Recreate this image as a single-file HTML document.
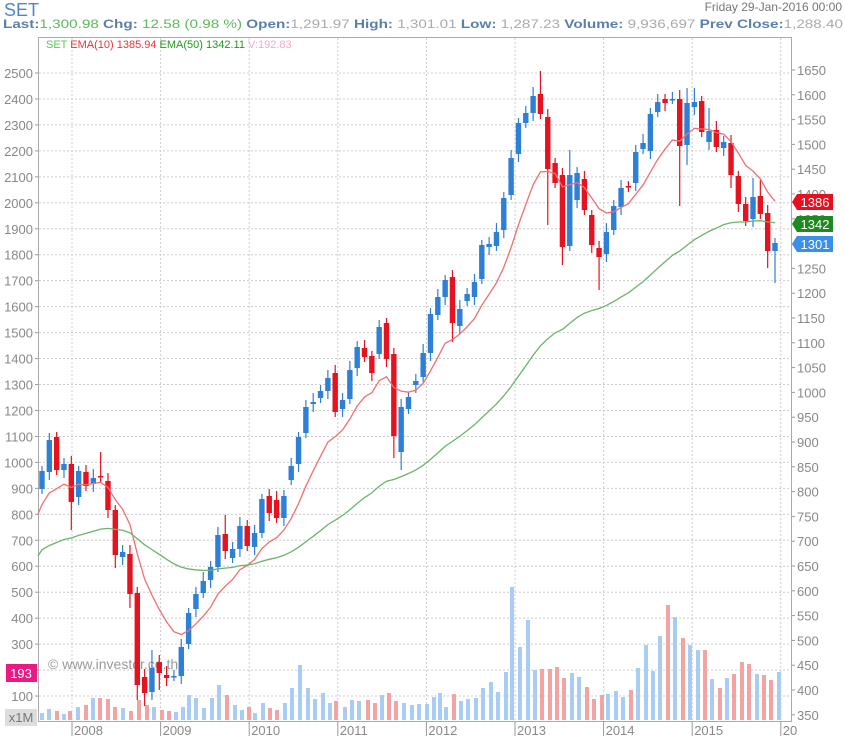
<!DOCTYPE html>
<html><head><meta charset="utf-8"><style>
body{margin:0;width:845px;height:736px;background:#fff;overflow:hidden;font-family:"Liberation Sans",sans-serif}
svg{position:absolute;left:0;top:0}
</style></head><body>
<svg id="s" width="845" height="736" xmlns="http://www.w3.org/2000/svg" font-family="Liberation Sans, sans-serif">
<text x="4" y="16" font-size="18" fill="#4f86c6">SET</text>
<text x="842" y="11" font-size="12" fill="#777" text-anchor="end">Friday 29-Jan-2016 00:00</text>
<text x="3" y="28" font-size="12.2" textLength="840" lengthAdjust="spacingAndGlyphs"><tspan fill="#5a80aa" font-weight="bold">Last:</tspan><tspan fill="#5cb85c">1,300.98 </tspan><tspan fill="#5a80aa" font-weight="bold">Chg:</tspan><tspan fill="#5cb85c"> 12.58 (0.98 %) </tspan><tspan fill="#5a80aa" font-weight="bold"> Open:</tspan><tspan fill="#aaa">1,291.97 </tspan><tspan fill="#5a80aa" font-weight="bold">High:</tspan><tspan fill="#aaa"> 1,301.01 </tspan><tspan fill="#5a80aa" font-weight="bold">Low:</tspan><tspan fill="#aaa"> 1,287.23 </tspan><tspan fill="#5a80aa" font-weight="bold">Volume:</tspan><tspan fill="#aaa"> 9,936,697 </tspan><tspan fill="#5a80aa" font-weight="bold"> Prev Close:</tspan><tspan fill="#aaa">1,288.40</tspan></text>
<g id="grid"></g>
<rect x="38.5" y="37.5" width="753" height="684" fill="none" stroke="#aaa"/>
<text x="46" y="48" font-size="11"><tspan fill="#5c5">SET </tspan><tspan fill="#e33">EMA(10) 1385.94 </tspan><tspan fill="#292">EMA(50) 1342.11 </tspan><tspan fill="#f4a8d0">V:192.83</tspan></text>
<text x="48" y="669" font-size="14" fill="#999">© www.investor.co.th</text>
<g id="vol"></g><g id="cnd"></g><g id="ema"></g>
<rect x="6" y="664" width="31" height="18" fill="#ea1a84"/>
<text x="21" y="678" font-size="13" fill="#fff" text-anchor="middle">193</text>
<rect x="5" y="709" width="32" height="17" fill="#ddd"/>
<text x="21" y="722" font-size="13" fill="#777" text-anchor="middle">x1M</text>
<g id="tags"></g>
</svg>
<script>
const NS="http://www.w3.org/2000/svg";
function el(p,t,a,txt){const e=document.createElementNS(NS,t);for(const k in a)e.setAttribute(k,a[k]);if(txt!=null)e.textContent=txt;document.getElementById(p).appendChild(e);return e;}
for(let k=0;k<25;k++){const v=2500-k*100,y=73+k*25.96;
 el('grid','line',{x1:39,x2:791,y1:y,y2:y,stroke:'#ccc','stroke-dasharray':'2,2'});
 el('grid','line',{x1:35,x2:39,y1:y,y2:y,stroke:'#999'});
 el('grid','text',{x:33,y:y+5,'font-size':13,fill:'#888','text-anchor':'end'},v);}
for(let k=0;k<27;k++){const v=1650-k*50,y=70+k*24.8;
 el('grid','line',{x1:791,x2:795,y1:y,y2:y,stroke:'#999'});
 el('grid','text',{x:797,y:y+5,'font-size':13,fill:'#888'},v);}
const yrs=['2008','2009','2010','2011','2012','2013','2014','2015','20'];
for(let k=0;k<9;k++){const x=72+k*88.6;
 el('grid','line',{x1:x,x2:x,y1:38,y2:721,stroke:'#ccc','stroke-dasharray':'2,2'});
 el('grid','line',{x1:x,x2:x,y1:721,y2:736,stroke:'#999'});
 el('grid','text',{x:x+2,y:735,'font-size':13,fill:'#888'},yrs[k]);}
const V=[[42,713],[49,709],[57,711,1],[64,714],[70,711,1],[78,707],[86,705,1],[93,698],[100,698,1],[108,699,1],[115,707,1],[123,708],[131,711,1],[139,700,1],[147,705,1],[154,707],[162,710,1],[169,711,1],[176,712],[183,707],[189,695],[196,698],[204,708],[212,698],[219,685],[227,695,1],[235,705],[242,710],[249,707,1],[255,713],[263,703],[270,708,1],[277,710,1],[285,703],[292,688],[300,665],[308,688],[315,699],[323,693],[330,703],[336,701,1],[345,707],[352,700],[359,701],[368,700,1],[375,703,1],[382,695],[389,693,1],[396,701,1],[404,703],[412,705],[419,704],[427,704],[434,697],
[440,693],[446,707],[454,694,1],[461,701],[468,699],[476,698],[483,688],[491,682],[498,692],[506,672],[512,587],[520,647],[528,620],[535,670],[542,669,1],[550,669,1],[557,667,1],[564,678,1],[572,673],[579,677],[587,687,1],[594,699,1],[602,695,1],[608,694],[616,691],[623,697],[631,690,1],[638,668],[646,645],[653,671],[660,636],[668,605,1],[675,617],[683,638,1],[690,645],[698,650],[705,650,1],[712,679],[720,688,1],[727,678],[734,674,1],[742,662,1],[749,664,1],[757,674],[764,675,1],[771,680,1],[779,672]];
V.forEach(v=>el('vol','rect',{x:v[0]-2,y:v[1],width:4,height:720-v[1],fill:v[2]?'#f4a3a3':'#a8ccf4'}));
const C=[[489,471],[472,440],[437,470],[470,464],[464,502],[497,471],[472,486],[484,478],[476,477],[481,510],[510,555],[557,552],[554,594],[593,685],[677,693],[692,668],[662,673],[675,678],[676,676],[676,647],[644,613],[609,594],[593,581],[580,567],[567,535],[534,551],[558,549],[549,526],[526,546],[547,533],[533,499],[496,513],[500,518],[518,496],[480,466],[464,437],[433,407],[404,402],[398,391],[391,378],[373,412],[409,400],[399,370],[368,347],[348,357],[356,373],[354,327],[323,359],[354,436],[452,407],[409,397],[385,381],[377,353],[353,314],[315,297],[297,280],[277,323],[326,309],[301,294],[297,282],[279,245],[247,244],[246,232],[230,198],[195,158],[154,123],[123,113],[113,96],[94,114],[117,169],[163,183],[175,247],[246,175],[200,173],[179,210],[215,245],[248,257],[254,232],[230,206],[207,188],[186,187],[183,152],[149,143],[151,114],[112,102],[99,103],[99,99],[99,146],[145,103],[107,102],[101,132],[142,131],[130,147],[148,142],[143,175],[176,204],[204,221],[219,197],[196,214],[213,251],[251,243]];
const W={2:[432,null],4:[null,530],8:[452,null],13:[null,700],14:[null,706],15:[650,null],16:[null,690],25:[515,null],40:[365,null],47:[318,null],48:[null,458],49:[null,470],56:[null,342],68:[71,null],69:[null,225],71:[null,265],72:[150,null],76:[null,290],87:[null,206],88:[88,165],89:[88,null],91:[108,null],94:[null,188],97:[178,null],98:[180,null],99:[null,268],100:[null,283],12:[null,608],10:[null,568]};
const xs=i=>42+i*7.33;
C.forEach((c,i)=>{const x=xs(i),t=Math.min(c[0],c[1]),b=Math.max(c[0],c[1]);const red=c[1]>c[0];const col=red?'#e6121f':'#2e7fd6';
 let h=t-5-((i*7)%5),l=b+5+((i*3)%6);if(W[i]){if(W[i][0]!=null)h=W[i][0];if(W[i][1]!=null)l=W[i][1];}
 el('cnd','line',{x1:x,x2:x,y1:h,y2:l,stroke:col,'stroke-width':1.2});
 el('cnd','rect',{x:x-2.7,y:t,width:5.4,height:Math.max(b-t,1.5),fill:col});});
let e10=512,e50=553,p10=[[38,514]],p50=[[38,556]];
C.forEach((c,i)=>{e10+= (c[1]-e10)*2/11;e50+=(c[1]-e50)*2/51;p10.push([xs(i),e10]);p50.push([xs(i),e50]);});
el('ema','polyline',{points:p10.map(p=>p.join(',')).join(' '),fill:'none',stroke:'#f07070','stroke-width':1.3});
el('ema','polyline',{points:p50.map(p=>p.join(',')).join(' '),fill:'none',stroke:'#6ab46a','stroke-width':1.3});
[[202,'#e8101e','1386'],[224,'#1f8a1f','1342'],[244,'#3a8fe8','1301']].forEach(t=>{
 el('tags','polygon',{points:`792,${t[0]} 797,${t[0]-8} 833,${t[0]-8} 833,${t[0]+8} 797,${t[0]+8}`,fill:t[1]});
 el('tags','text',{x:815,y:t[0]+5,'font-size':13,fill:'#fff','text-anchor':'middle'},t[2]);});
</script>
</body></html>
